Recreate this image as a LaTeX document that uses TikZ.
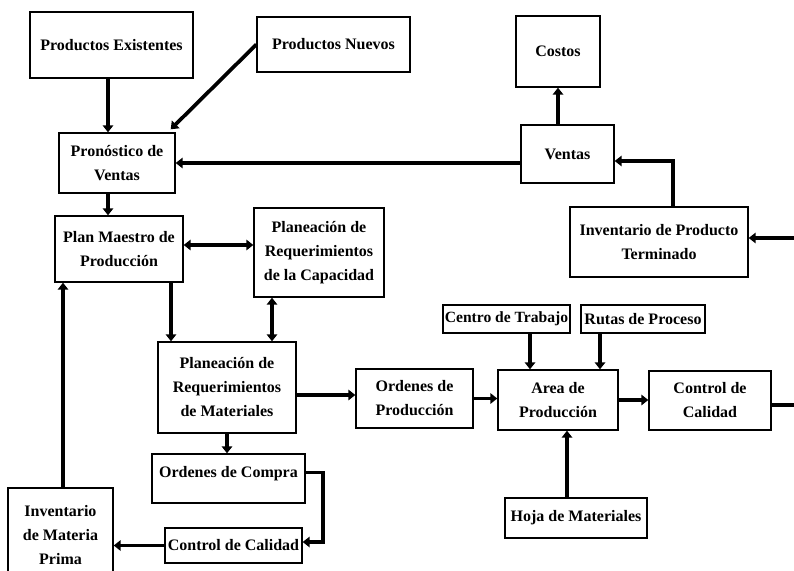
\documentclass[tikz,border=0pt]{standalone}
\usepackage{fontspec}
\setmainfont{Liberation Serif}
\usetikzlibrary{arrows.meta}
\begin{document}
\begin{tikzpicture}[x=1pt,y=-1pt,
  box/.style={draw, line width=1.4pt, fill=white, inner sep=1pt, align=center,
    font=\fontsize{16}{24}\selectfont\bfseries},
  con/.style={line width=3.7pt, -{Triangle[length=7pt,width=10.5pt]}},
  dcon/.style={line width=3.7pt, {Triangle[length=7pt,width=10.5pt]}-{Triangle[length=7pt,width=10.5pt]}},
  lin/.style={line width=3.7pt}]
\clip (0,0) rectangle (794,570);
\fill[white] (0,0) rectangle (794,570);

% boxes
\node[box, minimum width=163, minimum height=66] (pe) at (111.5,45) {Productos Existentes};
\node[box, minimum width=153, minimum height=55] (pn) at (333.5,44.5) {Productos Nuevos};
\node[box, minimum width=84, minimum height=71] (co) at (558,51.5) {Costos};
\node[box, minimum width=116, minimum height=60] (pv) at (117,163) {Pronóstico de\\Ventas};
\node[box, minimum width=93, minimum height=58] (ve) at (567.5,154) {Ventas};
\node[box, minimum width=178, minimum height=70] (ipt) at (659,242) {Inventario de Producto\\Terminado};
\node[box, minimum width=128, minimum height=66] (pm) at (119,249) {Plan Maestro de\\Producción};
\node[box, minimum width=130, minimum height=89] (prc) at (319,252.5) {Planeación de\\Requerimientos\\de la Capacidad};
\node[box, minimum width=138, minimum height=91] (mrp) at (227,387.5) {Planeación de\\Requerimientos\\de Materiales};
\node[box, minimum width=117, minimum height=59] (op) at (414.5,398.5) {Ordenes de\\Producción};
\node[box, minimum width=127, minimum height=28, inner sep=0pt, font=\fontsize{15.6}{24}\selectfont\bfseries] (ct) at (506.5,319) {Centro de Trabajo};
\node[box, minimum width=124, minimum height=28, inner sep=0pt] (rp) at (643,319) {Rutas de Proceso};
\node[box, minimum width=120, minimum height=60] (ap) at (558,400) {Area de\\Producción};
\node[box, minimum width=122, minimum height=59] (ccr) at (710,400.5) {Control de\\Calidad};
\node[box, minimum width=142, minimum height=40] (hm) at (576,518) {Hoja de Materiales};
\node[box, minimum width=153, minimum height=49] (oc) at (228.5,478.5) {\raisebox{5pt}[\height][\depth]{Ordenes de Compra}};
\node[box, minimum width=137, minimum height=35] (ccb) at (233.5,545.5) {Control de Calidad};
\node[box, minimum width=105, minimum height=94] (imp) at (60.5,535) {Inventario\\de Materia\\Prima};

\coordinate (re1) at (794,238);
\coordinate (re2) at (794,405);

% connectors
\draw[con] ([xshift=-3.5pt]pe.south) -- ([xshift=-3.5pt]pe.south |- pv.north);
\draw[con] (pn.west) -- ([xshift=-5pt,yshift=3pt]pv.north east);
\draw[con] (pv.east -| ve.west) -- (pv.east);
\draw[con] (co.south |- ve.north) -- (co.south);
\draw[con] ([xshift=14pt]ipt.north) |- ([yshift=-7pt]ve.east);
\draw[con] (re1) -- (re1 -| ipt.east);
\draw[con] ([xshift=-9pt]pv.south) -- ([xshift=-9pt]pv.south |- pm.north);
\draw[dcon] ([yshift=4pt]pm.east) -- ([yshift=4pt]pm.east -| prc.west);
\draw[con] ([xshift=52pt]pm.south) -- ([xshift=52pt]pm.south |- mrp.north);
\draw[dcon] ([xshift=-47pt]prc.south) -- ([xshift=-47pt]prc.south |- mrp.north);
\draw[con] ([yshift=-7.5pt]mrp.east) -- ([yshift=-7.5pt]mrp.east -| op.west);
\draw[con] (op.east) -- (op.east -| ap.west);
\draw[con] ([xshift=23.5pt]ct.south) -- ([xshift=23.5pt]ct.south |- ap.north);
\draw[con] ([xshift=-43pt]rp.south) -- ([xshift=-43pt]rp.south |- ap.north);
\draw[con] ([xshift=-9pt]hm.north) -- ([xshift=-9pt]hm.north |- ap.south);
\draw[con] (ap.east) -- (ap.east -| ccr.west);
\draw[lin] (ccr.east |- re2) -- (re2);
\draw[con] (mrp.south) -- (mrp.south |- oc.north);
\draw[con] ([yshift=6pt]oc.east) -- ++(17,0) |- ([yshift=3.5pt]ccb.east);
\draw[con] (ccb.west) -- (ccb.west -| imp.east);
\draw[con] ([xshift=2.5pt]imp.north) -- ([xshift=2.5pt]imp.north |- pm.south);
\end{tikzpicture}
\end{document}
